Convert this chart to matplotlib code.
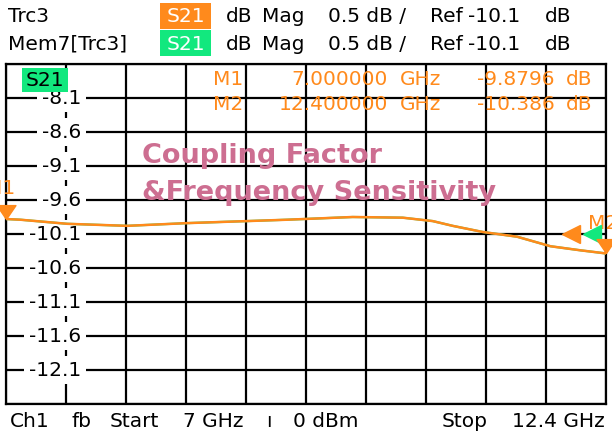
import matplotlib.pyplot as plt
from matplotlib.patches import Rectangle

# trace data (GHz, dB)
freq_ghz = [7.0, 7.13, 7.55, 8.09, 8.63, 9.17, 9.53, 10.12, 10.57, 10.84,
            11.02, 11.29, 11.6, 11.9, 12.17, 12.4]
s21_db = [-9.8796, -9.89, -9.95, -9.98, -9.94, -9.91, -9.89, -9.85, -9.86, -9.91,
          -9.98, -10.07, -10.14, -10.28, -10.34, -10.386]

marker_names = ['M1', 'M2']
marker_freq = [7.0, 12.4]
marker_db = [-9.8796, -10.386]
marker_freq_txt = ['7.000000', '12.400000']
marker_db_txt = ['-9.8796', '-10.386']

ytick_labels = ['-8.1', '-8.6', '-9.1', '-9.6', '-10.1', '-10.6', '-11.1', '-11.6', '-12.1']
ytick_values = [-8.1, -8.6, -9.1, -9.6, -10.1, -10.6, -11.1, -11.6, -12.1]

START, STOP = 7.0, 12.4
REF, PER_DIV = -10.1, 0.5

ORANGE = '#FF8A1C'
GREEN = '#12E87E'
PINK = '#CD6E91'
W, H = 612, 435
FS = 14.5

plt.rcParams['font.family'] = ['DejaVu Sans']
fig = plt.figure(figsize=(W / 100, H / 100), dpi=100)

# plot box in pixels: x 6..606, y 65..405
ax = fig.add_axes([6 / W, (H - 405) / H, 600 / W, 340 / H])
ax.set_xlim(START, STOP)
ax.set_ylim(REF - 5 * PER_DIV, REF + 5 * PER_DIV)
ax.set_xticks([START + i * (STOP - START) / 10 for i in range(11)])
ax.set_yticks([REF + i * PER_DIV for i in range(-5, 6)])
ax.tick_params(length=0, labelbottom=False, labelleft=False)
ax.grid(True, color='black', lw=1.6)
ax.set_axisbelow(True)
for sp in ax.spines.values():
    sp.set_color('black')
    sp.set_linewidth(1.6)


def fx(px):
    return (px - 6) / 600


def fy(py):
    return (405 - py) / 340


# y scale labels sitting on the second grid line
for v, lab in zip(ytick_values, ytick_labels):
    ax.text(fx(81), (v - (REF - 5 * PER_DIV)) / (10 * PER_DIV), lab,
            transform=ax.transAxes, ha='right', va='center', fontsize=FS,
            bbox=dict(facecolor='white', edgecolor='none', pad=3.5), zorder=4)

# memory trace (under) and live trace
ax.plot(freq_ghz, s21_db, color=GREEN, lw=1.6, zorder=5)
ax.plot(freq_ghz, s21_db, color=ORANGE, lw=1.8, zorder=6)

# reference level arrows at the right edge
ax.plot([12.085], [REF], marker='<', ms=13, color=ORANGE, clip_on=False, zorder=7)
ax.plot([12.27], [REF], marker='<', ms=13, color=GREEN, clip_on=False, zorder=7)

# marker triangles with tip on the trace
tri = [(0, 0), (-0.75, 1.1), (0.75, 1.1), (0, 0)]
for f, v in zip(marker_freq, marker_db):
    ax.plot([f], [v], marker=tri, ms=20, color=ORANGE, clip_on=False, zorder=8)
ax.text(fx(15), fy(189), 'M1', transform=ax.transAxes, ha='right', va='center',
        fontsize=FS, color=ORANGE, clip_on=False)
ax.text(fx(588), fy(224), 'M2', transform=ax.transAxes, ha='left', va='center',
        fontsize=FS, color=ORANGE, clip_on=False)

# marker table
for i, name in enumerate(marker_names):
    y = fy(80 + 24.5 * i)
    kw = dict(transform=ax.transAxes, va='center', fontsize=FS, color=ORANGE, zorder=4)
    ax.text(fx(243), y, name, ha='right', **kw)
    ax.text(fx(388), y, marker_freq_txt[i], ha='right', **kw)
    ax.text(fx(400), y, 'GHz', ha='left', **kw)
    ax.text(fx(555), y, marker_db_txt[i], ha='right', **kw)
    ax.text(fx(566), y, 'dB', ha='left', **kw)

# annotation
ax.text(fx(142), fy(163), 'Coupling Factor', transform=ax.transAxes,
        ha='left', va='baseline', fontsize=19.5, fontweight='bold', color=PINK, zorder=4)
ax.text(fx(142), fy(200), '&Frequency Sensitivity', transform=ax.transAxes,
        ha='left', va='baseline', fontsize=19.5, fontweight='bold', color=PINK, zorder=4)


def px(x, y):
    return x / W, 1 - y / H


# trace label inside the grid
fig.patches.append(Rectangle(px(22, 93), 46 / W, 24 / H, transform=fig.transFigure,
                             facecolor=GREEN, edgecolor='none', zorder=3))
fig.text(*px(45, 81), 'S21', ha='center', va='center', fontsize=FS, color='black', zorder=4)

# header lines
rows = [('Trc3', ORANGE, 17), ('Mem7[Trc3]', GREEN, 44)]
for name, col, y in rows:
    fig.text(*px(8, y), name, ha='left', va='center', fontsize=FS)
    fig.patches.append(Rectangle(px(160, y + 13), 51 / W, 26 / H, transform=fig.transFigure,
                                 facecolor=col, edgecolor='none', zorder=1))
    fig.text(*px(185.5, y), 'S21', ha='center', va='center', fontsize=FS, color='white')
    fig.text(*px(226, y), 'dB', ha='left', va='center', fontsize=FS)
    fig.text(*px(262, y), 'Mag', ha='left', va='center', fontsize=FS)
    fig.text(*px(328, y), '0.5 dB /', ha='left', va='center', fontsize=FS)
    fig.text(*px(430, y), 'Ref', ha='left', va='center', fontsize=FS)
    fig.text(*px(468, y), '-10.1', ha='left', va='center', fontsize=FS)
    fig.text(*px(545, y), 'dB', ha='left', va='center', fontsize=FS)

# footer
foot = [('Ch1', 10), ('fb', 72), ('Start', 110), ('7 GHz', 183), ('ı', 266), ('0 dBm', 293),
        ('Stop', 442)]
for t, x in foot:
    fig.text(*px(x, 422), t, ha='left', va='center', fontsize=FS)
fig.text(*px(605, 422), '12.4 GHz', ha='right', va='center', fontsize=FS)

fig.savefig('out.png', dpi=100)
